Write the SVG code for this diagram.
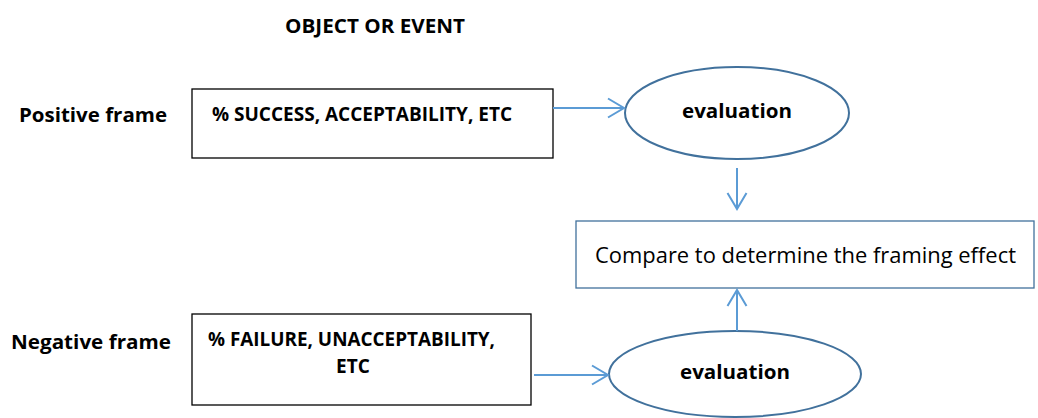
<svg xmlns="http://www.w3.org/2000/svg" width="1038" height="418" viewBox="0 0 1038 418">
<style>
text{font-family:"Open Sans","Liberation Sans",sans-serif;fill:#000}
.b{font-weight:bold}
.box{fill:#fff;stroke:#000;stroke-width:1.3}
.ell{fill:#fff;stroke:#41719C;stroke-width:2}
.cmp{fill:#fff;stroke:#41719C;stroke-width:1.3}
.arr{stroke:#5B9BD5;stroke-width:2;fill:none}
</style>
<defs>
<marker id="ah" viewBox="0 0 20 22" refX="18" refY="11" markerWidth="20" markerHeight="22" markerUnits="userSpaceOnUse" orient="auto">
<path d="M2,1.5 L18,11 L2,20.5" fill="none" stroke="#5B9BD5" stroke-width="2"/>
</marker>
</defs>
<g id="title"><text class="b" x="285" y="33" font-size="19" textLength="180" lengthAdjust="spacingAndGlyphs">OBJECT OR EVENT</text></g>
<g id="pos-label"><text class="b" x="19" y="122" font-size="20" textLength="148" lengthAdjust="spacingAndGlyphs">Positive frame</text></g>
<g id="neg-label"><text class="b" x="11" y="349" font-size="20" textLength="160" lengthAdjust="spacingAndGlyphs">Negative frame</text></g>
<g id="pos-box">
<rect class="box" x="192" y="89" width="361" height="69"/>
<text class="b" x="212" y="121" font-size="19" textLength="300" lengthAdjust="spacingAndGlyphs">% SUCCESS, ACCEPTABILITY, ETC</text>
</g>
<g id="neg-box">
<rect class="box" x="192" y="314" width="339" height="91"/>
<text class="b" x="208" y="346" font-size="19" textLength="287" lengthAdjust="spacingAndGlyphs">% FAILURE, UNACCEPTABILITY,</text>
<text class="b" x="353" y="373" font-size="19" text-anchor="middle">ETC</text>
</g>
<g id="eval-top">
<ellipse class="ell" cx="737" cy="113" rx="112" ry="46"/>
<text class="b" x="737" y="118" font-size="20" text-anchor="middle" textLength="110" lengthAdjust="spacingAndGlyphs">evaluation</text>
</g>
<g id="eval-bottom">
<ellipse class="ell" cx="735" cy="374" rx="126" ry="43"/>
<text class="b" x="735" y="379" font-size="20" text-anchor="middle" textLength="110" lengthAdjust="spacingAndGlyphs">evaluation</text>
</g>
<g id="compare">
<rect class="cmp" x="576" y="221" width="458" height="67"/>
<text x="595" y="263" font-size="21" textLength="421" lengthAdjust="spacingAndGlyphs">Compare to determine the framing effect</text>
</g>
<g id="connectors">
<line class="arr" x1="553" y1="108" x2="624" y2="108" marker-end="url(#ah)"/>
<line class="arr" x1="737" y1="168" x2="737" y2="209" marker-end="url(#ah)"/>
<line class="arr" x1="737" y1="331" x2="737" y2="290" marker-end="url(#ah)"/>
<line class="arr" x1="534" y1="375" x2="608" y2="375" marker-end="url(#ah)"/>
</g>
</svg>
